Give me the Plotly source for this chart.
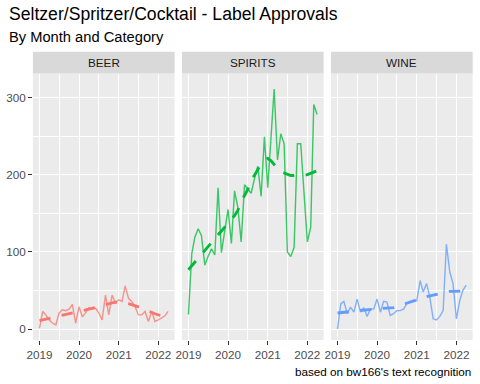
import plotly.graph_objects as go

W, H = 480, 384

months = [f"{2019 + k // 12}-{k % 12 + 1:02d}-01" for k in range(40)]

categories = ["BEER", "SPIRITS", "WINE"]
colors = {"BEER": "#F8766D", "SPIRITS": "#00BA38", "WINE": "#619CFF"}

beer = [1, 23, 18.5, 12, 8, 5.6, 20.7, 25, 24, 26,
        32, 8, 29, 16, 21, 28, 26, 27, 21, 12,
        44, 18.5, 44, 34, 38, 36, 56, 40, 36, 29,
        18.5, 18.5, 23, 10, 23, 10, 12, 15, 17, 23]
spirits = [19, 98, 119, 130, 121, 83, 94, 104, 96, 183,
           99, 128, 155, 111, 179, 157, 113, 187, 181, 176,
           195, 211, 172, 249, 183, 248, 311, 219, 253, 240,
           100, 94, 106, 240, 240, 177, 113, 132, 291, 278]
wine = [0.4, 33, 36, 20, 28.6, 22, 39, 22, 27.7, 16.5,
        26, 26, 39, 22, 36, 35, 17.8, 20, 24, 24,
        26, 33, 35, 36, 37, 63, 48, 59, 41.6, 13.4,
        12, 16.5, 24, 110, 74, 59, 13.4, 37, 50, 57]

beer_trend = [11, 12, 13, 14, 15, 16, 17.5, 18.5, 19.3, 20,
              20.7, 21.5, 22.5, 23.5, 24.5, 25.5, 26.5, 27.5, 29, 30.5,
              32, 33, 34, 35, 35, 34.8, 34.3, 33.2, 32, 30.5,
              29, 27, 25, 23, 21.5, 20, 18.5, 17.5, 16.5, 15.5]
spirits_trend = [77, 82, 87, 92, 97, 102, 107, 112, 117, 122,
                 127, 132, 137, 142, 147, 154, 166, 173, 181, 192,
                 200, 207, 214, 219, 221, 218, 213, 208, 204, 202,
                 200, 199, 199, 199, 199, 199, 200, 202, 204, 205]
wine_trend = [21, 21.5, 22, 22.5, 23, 23.5, 24.5, 25, 25.5, 26,
              26.2, 26.4, 26.5, 26.6, 26.8, 27, 27.5, 28, 29.5, 31,
              32, 33.5, 35, 36.4, 37.5, 39, 40.5, 42, 43, 44,
              45, 46, 47, 48.5, 49, 49, 49, 49.3, 49.5, 50]

values = {"BEER": beer, "SPIRITS": spirits, "WINE": wine}
trends = {"BEER": beer_trend, "SPIRITS": spirits_trend, "WINE": wine_trend}

year_ticks = ["2019-01-01", "2020-01-01", "2021-01-01", "2022-01-01"]
year_labels = ["2019", "2020", "2021", "2022"]
half_ticks = ["2019-07-02", "2020-07-02", "2021-07-02"]
y_ticks = [0, 100, 200, 300]
y_minor = [50, 150, 250]

title = "Seltzer/Spritzer/Cocktail - Label Approvals"
subtitle = "By Month and Category"
caption = "based on bw166's text recognition"

FONT = "Liberation Sans, Arial, sans-serif"

# pixel layout
panel_w = 141.7
gap = 7.33
left0 = 32.9
panel_top = 73.5
panel_bot = 340.0
strip_top = 51.7

def px_x(p):
    return p / W

def px_y(p):
    return 1 - p / H

fig = go.Figure()
layout = dict(
    template="none",
    width=W, height=H,
    margin=dict(l=0, r=0, t=0, b=0, autoexpand=False),
    paper_bgcolor="white", plot_bgcolor="#EBEBEB",
    showlegend=False,
    font=dict(family=FONT, size=11.7, color="#4D4D4D"),
)
shapes = []
annotations = []

for k, cat in enumerate(categories):
    x0 = left0 + k * (panel_w + gap)
    x1 = x0 + panel_w
    xa = "x" if k == 0 else f"x{k+1}"
    ya = "y" if k == 0 else f"y{k+1}"
    fig.add_trace(go.Scatter(
        x=months, y=values[cat], mode="lines",
        line=dict(color=colors[cat], width=1.42), opacity=0.75,
        xaxis=xa, yaxis=ya, hoverinfo="skip"))
    fig.add_trace(go.Scatter(
        x=months, y=trends[cat], mode="lines",
        line=dict(color=colors[cat], width=2.85, dash="11.4px,11.4px"),
        xaxis=xa, yaxis=ya, hoverinfo="skip"))
    xkey = "xaxis" if k == 0 else f"xaxis{k+1}"
    ykey = "yaxis" if k == 0 else f"yaxis{k+1}"
    layout[xkey] = dict(
        domain=[px_x(x0), px_x(x1)], anchor=ya, type="date",
        range=["2018-11-02", "2022-05-31"],
        tickvals=year_ticks, ticktext=year_labels,
        showgrid=True, gridcolor="white", gridwidth=1.42,
        ticks="outside", ticklen=3.67, tickwidth=1.42, tickcolor="#333333",
        tickfont=dict(family=FONT, size=11.7, color="#4D4D4D"),
        minor=dict(tickvals=half_ticks, showgrid=True, gridcolor="white",
                   gridwidth=0.71, ticks=""),
        showline=False, zeroline=False, fixedrange=True, automargin=False,
    )
    layout[ykey] = dict(
        domain=[px_y(panel_bot), px_y(panel_top)], anchor=xa,
        range=[-14, 331],
        tickvals=y_ticks, ticktext=[str(v) for v in y_ticks],
        showticklabels=(k == 0),
        showgrid=True, gridcolor="white", gridwidth=1.42,
        ticks="outside" if k == 0 else "", ticklen=3.67, tickwidth=1.42,
        tickcolor="#333333",
        tickfont=dict(family=FONT, size=11.7, color="#4D4D4D"),
        minor=dict(tickvals=y_minor, showgrid=True, gridcolor="white",
                   gridwidth=0.71, ticks=""),
        showline=False, zeroline=False, fixedrange=True, automargin=False,
    )
    if k > 0:
        layout[ykey]["matches"] = "y"
    shapes.append(dict(type="rect", xref="paper", yref="paper",
                       x0=px_x(x0), x1=px_x(x1),
                       y0=px_y(panel_top), y1=px_y(strip_top),
                       fillcolor="#D9D9D9", line=dict(width=0), layer="below"))
    annotations.append(dict(text=cat, xref="paper", yref="paper",
                            x=px_x((x0 + x1) / 2), y=px_y((panel_top + strip_top) / 2),
                            xanchor="center", yanchor="middle", showarrow=False,
                            font=dict(family=FONT, size=11.7, color="#1A1A1A")))

annotations.append(dict(text=title, xref="paper", yref="paper",
                        x=px_x(7.0), y=px_y(14.0), xanchor="left", yanchor="middle",
                        showarrow=False, font=dict(family=FONT, size=17.6, color="black")))
annotations.append(dict(text=subtitle, xref="paper", yref="paper",
                        x=px_x(7.0), y=px_y(37.0), xanchor="left", yanchor="middle",
                        showarrow=False, font=dict(family=FONT, size=14.7, color="black")))
annotations.append(dict(text=caption, xref="paper", yref="paper",
                        x=px_x(473.0), y=px_y(371.0), xanchor="right", yanchor="middle",
                        showarrow=False, font=dict(family=FONT, size=11.7, color="black")))

layout["shapes"] = shapes
layout["annotations"] = annotations
fig.update_layout(**layout)
fig.write_html("out.html", config={"displayModeBar": False},
               post_script="document.body.style.margin='0';document.body.style.overflow='hidden';")
